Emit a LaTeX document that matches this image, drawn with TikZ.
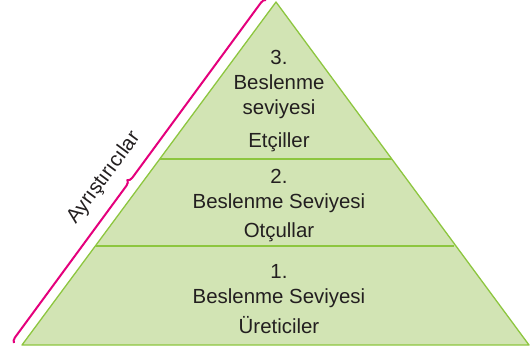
\documentclass[tikz,border=0pt]{standalone}
\usepackage{fontspec}
\setmainfont{Liberation Sans}
\usetikzlibrary{decorations.pathreplacing}
\definecolor{pyrfill}{RGB}{210,228,180}
\definecolor{pyrline}{RGB}{141,198,63}
\definecolor{bracecol}{RGB}{228,0,124}
\definecolor{txt}{RGB}{35,31,32}
\tikzset{
  lvl/.style={anchor=base, text=txt, inner sep=0pt, font=\fontsize{20.5}{24}\selectfont},
  side/.style={text=txt, inner sep=0pt, font=\fontsize{20.5}{24}\selectfont},
  edge/.style={draw=pyrline, line width=1.3bp},
}
\begin{document}
\begin{tikzpicture}[x=1bp,y=-1bp]
\useasboundingbox (0,0) rectangle (531,350);
\coordinate (apex) at (276,2);
\coordinate (bl) at (22,345);
\coordinate (br) at (529,345);
\coordinate (l2) at (160,159);
\coordinate (r2) at (392,159);
\coordinate (l1) at (96,246);
\coordinate (r1) at (454,246);
\fill[pyrfill] (apex) -- (br) -- (bl) -- cycle;
\draw[edge, line join=round] (apex) -- (br) -- (bl) -- cycle;
\draw[edge] (l2) -- (r2);
\draw[edge] (l1) -- (r1);
% brace
\coordinate (bb) at (14,343);
\coordinate (bt) at (266,0);
\draw[bracecol, line width=2bp, decorate, decoration={brace, amplitude=5bp, aspect=0.466}] (bb) -- (bt);
\node[side, rotate=53.5] (ayr) at (104,178) {Ayrıştırıcılar};
% texts
\node[lvl] (t3a) at (279,64) {3.};
\node[lvl] (t3b) at (279,89) {Beslenme};
\node[lvl] (t3c) at (279,114) {seviyesi};
\node[lvl] (t3d) at (279,147) {Etçiller};
\node[lvl] (t2a) at (279,183) {2.};
\node[lvl] (t2b) at (279,208) {Beslenme Seviyesi};
\node[lvl] (t2c) at (279,237) {Otçullar};
\node[lvl] (t1a) at (279,278) {1.};
\node[lvl] (t1b) at (279,303) {Beslenme Seviyesi};
\node[lvl] (t1c) at (279,333) {Üreticiler};
\end{tikzpicture}
\end{document}
